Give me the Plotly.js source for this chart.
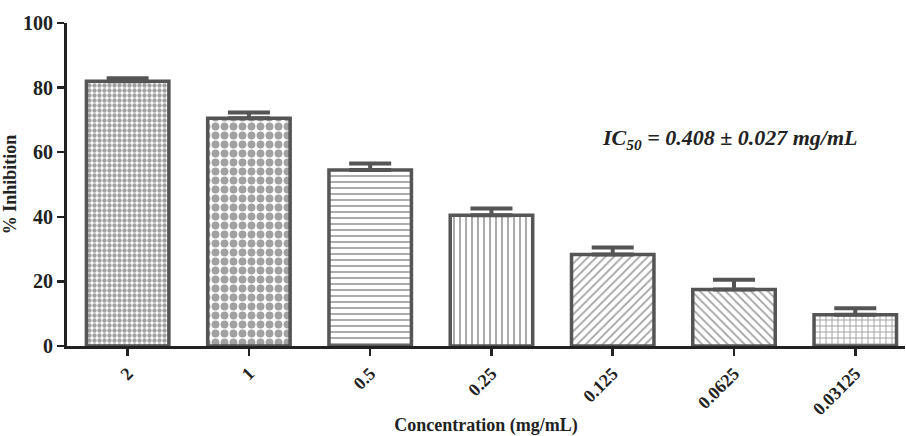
<!DOCTYPE html>
<html>
<head>
<meta charset="utf-8">
<script src="https://cdn.plot.ly/plotly-3.0.1.min.js"></script>
<style>html,body{margin:0;padding:0;background:#fff;}#chart{width:906px;height:436px;}</style>
</head>
<body>
<div id="chart"></div>
<script>
const categories = ["2", "1", "0.5", "0.25", "0.125", "0.0625", "0.03125"];
const inhibition = [82.0, 70.5, 54.5, 40.5, 28.3, 17.5, 9.7];
const errorUp = [0.9, 1.8, 2.0, 2.1, 2.2, 3.0, 2.0];
const patternShapes = [".", ".", "-", "|", "/", "\\", "+"];
const patternSizes = [5, 9, 6, 6, 6, 6, 6];
const patternSolidity = [0.6, 0.6, 0.3, 0.3, 0.3, 0.3, 0.3];
const yTicks = [0, 20, 40, 60, 80, 100];

const fontFam = "Liberation Serif, Times New Roman, serif";
const barColor = "#555555";

const trace = {
  type: "bar",
  x: categories,
  y: inhibition,
  width: 0.68,
  marker: {
    color: "#ffffff",
    line: {color: barColor, width: 3.5},
    pattern: {
      shape: patternShapes,
      size: patternSizes,
      solidity: patternSolidity,
      fgcolor: "#444444",
      bgcolor: "#ffffff",
      fillmode: "overlay"
    }
  },
  error_y: {
    type: "data",
    symmetric: false,
    array: errorUp,
    arrayminus: categories.map(() => 0),
    color: barColor,
    thickness: 4,
    width: 21
  },
  hoverinfo: "none"
};

const layout = {
  width: 906,
  height: 436,
  margin: {l: 67, r: 1, t: 23, b: 90},
  paper_bgcolor: "#ffffff",
  plot_bgcolor: "#ffffff",
  showlegend: false,
  font: {family: fontFam, color: "#222222"},
  xaxis: {
    type: "category",
    range: [-0.5, 6.41],
    tickvals: categories,
    ticktext: categories.map(c => "<b>" + c + "</b>"),
    showline: true,
    linecolor: "#222222",
    linewidth: 3,
    ticks: "outside",
    ticklen: 7,
    tickwidth: 2.5,
    tickcolor: "#222222",
    tickangle: -45,
    tickfont: {family: fontFam, size: 18, color: "#222222"},
    showgrid: false,
    zeroline: false,
    title: {text: "<b>Concentration (mg/mL)</b>", font: {family: fontFam, size: 18, color: "#222222"}, standoff: 10}
  },
  yaxis: {
    range: [0, 100],
    tickvals: yTicks,
    ticktext: yTicks.map(v => "<b>" + v + "</b>"),
    showline: true,
    linecolor: "#222222",
    linewidth: 3,
    ticks: "outside",
    ticklen: 7,
    tickwidth: 2.5,
    tickcolor: "#222222",
    tickfont: {family: fontFam, size: 20, color: "#222222"},
    showgrid: false,
    zeroline: false,
    title: {text: "<b>% Inhibition</b>", font: {family: fontFam, size: 18, color: "#222222"}, standoff: 4}
  },
  annotations: [{
    xref: "paper", yref: "paper",
    x: 0.791, y: 0.64,
    xanchor: "center", yanchor: "middle",
    showarrow: false,
    text: "<b><i>IC<sub>50</sub> = 0.408 ± 0.027 mg/mL</i></b>",
    font: {family: fontFam, size: 22, color: "#222222"}
  }]
};

Plotly.newPlot("chart", [trace], layout, {displayModeBar: false, staticPlot: true});
</script>
</body>
</html>
